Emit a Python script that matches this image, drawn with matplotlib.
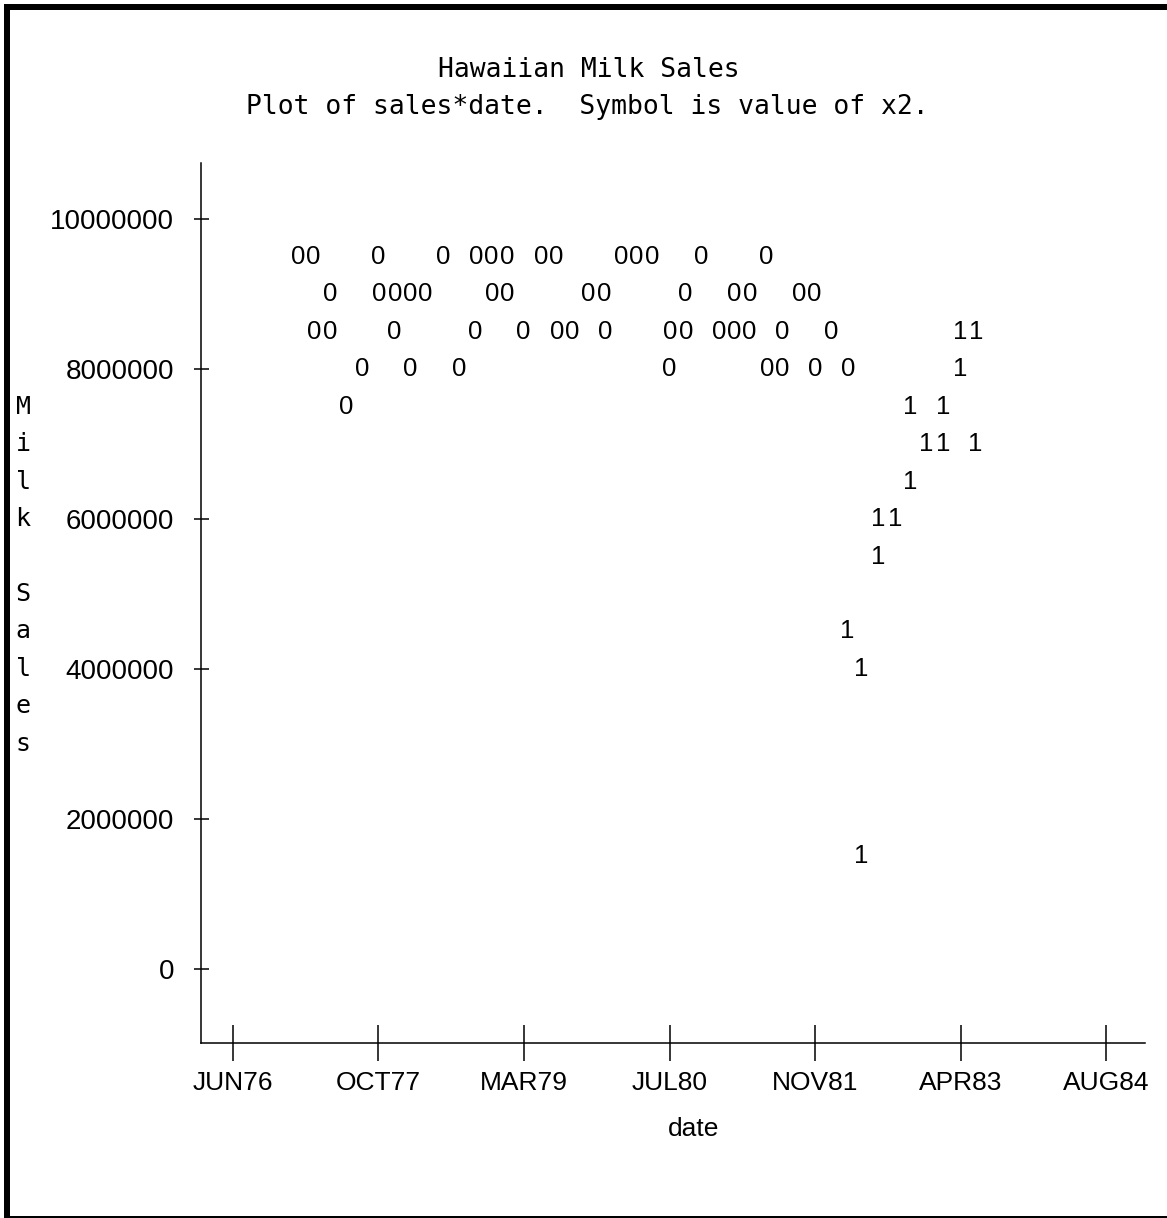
import numpy as np
import matplotlib
matplotlib.use("Agg")
import matplotlib.pyplot as plt
import matplotlib.dates as mdates
from matplotlib.patches import Rectangle
from matplotlib.ticker import FixedLocator, FuncFormatter
from matplotlib import transforms

MONO = "DejaVu Sans Mono"
SANS = "Liberation Sans"

# printed observations (sales rounded to the plot row, x2 is the symbol)
dates = [
    # 9,500,000 row
    "1977-01-16", "1977-03-10", "1977-10-20", "1978-05-29", "1978-09-20",
    "1978-11-11", "1979-01-03", "1979-05-02", "1979-06-23", "1980-01-31",
    "1980-03-24", "1980-05-15", "1980-10-31", "1981-06-12",
    # 9,000,000 row
    "1977-05-05", "1977-10-23", "1977-12-15", "1978-02-05", "1978-03-30",
    "1978-11-13", "1979-01-04", "1979-10-11", "1979-12-03", "1980-09-07",
    "1981-02-23", "1981-04-17", "1981-10-02", "1981-11-24",
    # 8,500,000 row
    "1977-03-14", "1977-05-06", "1977-12-14", "1978-09-17", "1979-03-02",
    "1979-06-26", "1979-08-17", "1979-12-07", "1980-07-19", "1980-09-09",
    "1980-12-31", "1981-02-21", "1981-04-15", "1981-08-06", "1982-01-21",
    "1983-04-10", "1983-06-03",
    # 8,000,000 row
    "1977-08-24", "1978-02-05", "1978-07-24", "1980-07-15", "1981-06-16",
    "1981-08-07", "1981-11-28", "1982-03-19", "1983-04-10",
    # 7,500,000 row
    "1977-07-01", "1982-10-21", "1983-02-09",
    # 7,000,000 row
    "1982-12-15", "1983-02-09", "1983-05-31",
    # 6,500,000 down to 1,500,000
    "1982-10-21", "1982-07-03", "1982-08-28", "1982-07-03",
    "1982-03-17", "1982-05-06", "1982-05-06",
]
sales = (
    [9500000] * 14
    + [9000000] * 14
    + [8500000] * 17
    + [8000000] * 9
    + [7500000] * 3
    + [7000000] * 3
    + [6500000, 6000000, 6000000, 5500000, 4500000, 4000000, 1500000]
)
x2 = (
    [0] * 14
    + [0] * 14
    + [0] * 15 + [1, 1]
    + [0] * 8 + [1]
    + [0, 1, 1]
    + [1, 1, 1]
    + [1] * 7
)

y_ticks = [0, 2000000, 4000000, 6000000, 8000000, 10000000]
first_tick = np.datetime64("1976-06-06")
tick_step = 500  # days between date ticks

W, H = 1167, 1218
fig = plt.figure(figsize=(W / 100, H / 100), dpi=100)
fig.patch.set_facecolor("white")

ax = fig.add_axes([201 / W, (H - 1043) / H, (1145 - 201) / W, (1043 - 163) / H])

t0 = mdates.date2num(first_tick)
xnum = mdates.date2num(np.array(dates, dtype="datetime64[D]"))

for xv, yv, sym in zip(xnum, sales, x2):
    ax.text(xv, yv, str(sym), ha="center", va="center",
            family=SANS, fontsize=18.5, color="black")

ax.set_xlim(t0 - 109, t0 + 3133)
ax.set_ylim(-987000, 10747000)

ax.xaxis.set_major_locator(FixedLocator(t0 + tick_step * np.arange(7)))
ax.xaxis.set_major_formatter(
    FuncFormatter(lambda v, pos: mdates.num2date(v).strftime("%b%y").upper()))
ax.yaxis.set_major_locator(FixedLocator(y_ticks))
ax.yaxis.set_major_formatter(FuncFormatter(lambda v, pos: f"{int(v)}"))

for side in ["top", "right"]:
    ax.spines[side].set_visible(False)
for side in ["left", "bottom"]:
    ax.spines[side].set_linewidth(1.1)

ax.tick_params(axis="x", direction="inout", length=26.6, width=1.1, pad=7)
ax.tick_params(axis="y", direction="inout", length=10.8, width=1.1, pad=14)
for lab in ax.get_xticklabels():
    lab.set_family(SANS)
    lab.set_fontsize(19)
for lab in ax.get_yticklabels():
    lab.set_family(SANS)
    lab.set_fontsize(20)

# vertical axis title, one letter per plot row
ylab_tr = transforms.blended_transform_factory(fig.transFigure, ax.transData)
for i, ch in enumerate("Milk Sales"):
    ax.text(23 / W, 7500000 - i * 500000, ch, transform=ylab_tr,
            ha="center", va="center", family=MONO, fontsize=18, clip_on=False)

fig.text(694 / W, 1 - 1136 / H, "date", ha="center", va="baseline",
         family=SANS, fontsize=19)

fig.text(589 / W, 1 - 77 / H, "Hawaiian Milk Sales", ha="center",
         va="baseline", family=MONO, fontsize=19)
fig.text(587 / W, 1 - 114 / H, "Plot of sales*date.  Symbol is value of x2.",
         ha="center", va="baseline", family=MONO, fontsize=19)

# page frame
frame = [
    (4, 4, W - 4, 6),     # top, heavy
    (4, 4, 6, H - 4),     # left, heavy
    (4, H - 2, W - 4, 2), # bottom, thin
]
for x, y, w, h in frame:
    fig.add_artist(Rectangle((x / W, 1 - (y + h) / H), w / W, h / H,
                             transform=fig.transFigure, color="black", lw=0))

fig.savefig("out.png", dpi=100, facecolor="white")
